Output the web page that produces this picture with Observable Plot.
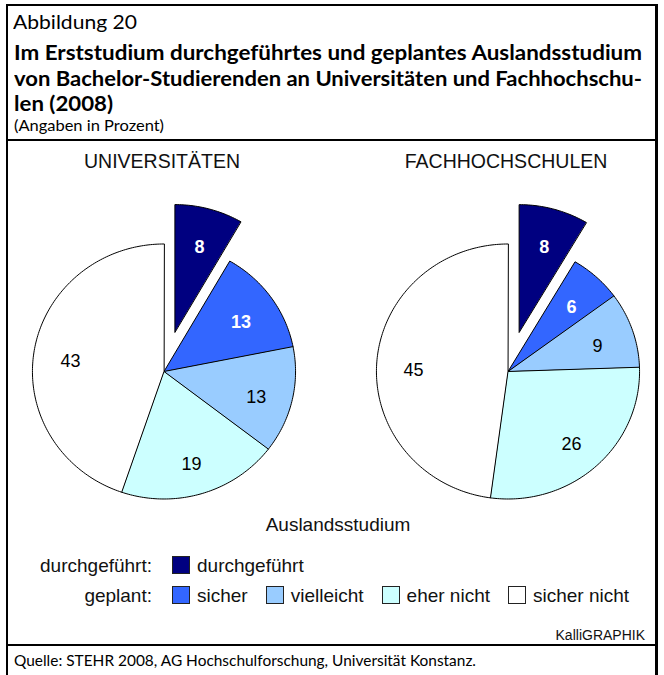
<!DOCTYPE html>
<html>
<head>
<meta charset="utf-8">
<script src="https://cdn.jsdelivr.net/npm/d3@7"></script>
<script src="https://cdn.jsdelivr.net/npm/@observablehq/plot@0.6"></script>
<style>
  html, body { margin: 0; padding: 0; background: #fff; }
  #page { position: relative; width: 664px; height: 675px; overflow: hidden; background: #fff; color: #000; }
  .rule { position: absolute; background: #000; }
  .hd { position: absolute; white-space: nowrap; line-height: 1; font-family: Lato, "Open Sans", sans-serif; transform-origin: 0 0; }
  .ar { font-family: "Liberation Sans", Arial, sans-serif; }
  #chart { position: absolute; left: 0; top: 142px; }
  .lrow { position: absolute; left: 0; white-space: nowrap; line-height: 1.1; font-family: "Liberation Sans", Arial, sans-serif; font-size: 19px; color: #111; }
  .lrow .lab { display: inline-block; width: 152px; text-align: right; margin-right: 20px; }
  .lrow .item { display: inline-block; margin-right: 18px; }
  .lrow .sw { display: inline-block; width: 16px; height: 16px; border: 1px solid #222; margin-right: 7px; margin-bottom: -2px; vertical-align: baseline; }
</style>
</head>
<body>
<div id="page"></div>
<script>
// ---- data ----
const schools = ["UNIVERSITÄTEN", "FACHHOCHSCHULEN"];
const categories = ["durchgeführt", "sicher", "vielleicht", "eher nicht", "sicher nicht"];
const uniValues = [8, 13, 13, 19, 43];
const fhValues = [8, 6, 9, 26, 45];
const colors = ["#000080", "#3366ff", "#99ccff", "#ccffff", "#ffffff"];
const legendTitle = "Auslandsstudium";
const legendGroups = ["durchgeführt:", "geplant:"];
const legendGroupMembers = [["durchgeführt"], ["sicher", "vielleicht", "eher nicht", "sicher nicht"]];
const figureLabel = "Abbildung 20";
const titleLines = [
  "Im Erststudium durchgeführtes und geplantes Auslandsstudium",
  "von Bachelor-Studierenden an Universitäten und Fachhochschu-",
  "len (2008)"
];
const subtitle = "(Angaben in Prozent)";
const credit = "KalliGRAPHIK";
const source = "Quelle: STEHR 2008, AG Hochschulforschung, Universität Konstanz.";

const page = document.getElementById("page");

// ---- frame ----
function rule(l, t, w, h) {
  const d = document.createElement("div");
  d.className = "rule";
  Object.assign(d.style, {left: l + "px", top: t + "px", width: w + "px", height: h + "px"});
  page.appendChild(d);
}
rule(6, 4, 652, 2);     // top
rule(6, 4, 2, 671);     // left
rule(655, 4, 3, 671);   // right
rule(6, 139, 652, 2);   // under header
rule(6, 644, 652, 2);   // above source

// ---- text placement helper (baseline + optional width fit) ----
function placeText(text, opts) {
  const el = document.createElement("div");
  el.className = "hd" + (opts.arial ? " ar" : "");
  el.textContent = text;
  el.style.fontSize = opts.size + "px";
  if (opts.weight) el.style.fontWeight = opts.weight;
  if (opts.color) el.style.color = opts.color;
  el.style.left = "0px";
  el.style.top = "0px";
  const probe = document.createElement("span");
  probe.style.display = "inline-block";
  probe.style.width = "0px";
  probe.style.height = "0px";
  el.appendChild(probe);
  page.appendChild(el);
  const base = probe.offsetTop;
  const w = el.getBoundingClientRect().width;
  let scale = 1;
  if (opts.fit) scale = opts.fit / w;
  if (opts.scale) scale = opts.scale;
  el.style.transform = `scaleX(${scale})`;
  let left = opts.left;
  if (opts.right != null) left = opts.right - w * scale;
  if (opts.center != null) left = opts.center - w * scale / 2;
  el.style.left = left + "px";
  el.style.top = (opts.baseline - base) + "px";
  return scale;
}

placeText(figureLabel, {size: 20, left: 13, baseline: 29, fit: 124});
const s1 = placeText(titleLines[0], {size: 21, weight: 700, left: 14, baseline: 60, fit: 628});
const s2 = placeText(titleLines[1], {size: 21, weight: 700, left: 14, baseline: 85.5, fit: 628});
placeText(titleLines[2], {size: 21, weight: 700, left: 14, baseline: 111, scale: (s1 + s2) / 2});
placeText(subtitle, {size: 15, left: 14, baseline: 131, fit: 150});
placeText(credit, {size: 14, arial: true, right: 645, baseline: 640, color: "#111"});
placeText(source, {size: 15, left: 14, baseline: 666, fit: 462});

// ---- pie geometry from values ----
const valuesBySchool = [uniValues, fhValues];
const explode = 0.32, labelR = 0.72;
const pts = [], labels = [];
schools.forEach((school, si) => {
  const vals = valuesBySchool[si];
  const total = d3.sum(vals);
  let acc = 0;
  vals.forEach((v, ci) => {
    const category = categories[ci];
    const a0 = acc / total * 2 * Math.PI;
    acc += v;
    const a1 = acc / total * 2 * Math.PI;
    const mid = (a0 + a1) / 2;
    const off = ci === 0 ? explode : 0;
    const ox = off * Math.sin(mid), oy = off * Math.cos(mid);
    const key = school + "|" + category;
    pts.push({school, category, key, x: ox, y: oy});
    const n = Math.max(2, Math.ceil((a1 - a0) / (Math.PI / 180)));
    for (let k = 0; k <= n; k++) {
      const a = a0 + (a1 - a0) * k / n;
      pts.push({school, category, key, x: ox + Math.sin(a), y: oy + Math.cos(a)});
    }
    labels.push({school, category, value: v, x: ox + labelR * Math.sin(mid), y: oy + labelR * Math.cos(mid), dark: ci < 2});
  });
});

const chart = Plot.plot({
  width: 664,
  height: 365,
  marginLeft: 13,
  marginRight: 6,
  marginTop: 0,
  marginBottom: 0,
  fx: {domain: schools, paddingInner: 0.1304, paddingOuter: 0, axis: null},
  x: {domain: [-1.1364, 1.1364], axis: null},
  y: {domain: [-1.0667, 1.796], axis: null},
  color: {domain: categories, range: colors},
  style: {background: "transparent", overflow: "visible", fontFamily: "'Liberation Sans', Arial, sans-serif"},
  marks: [
    Plot.line(pts, {fx: "school", x: "x", y: "y", z: "key", fill: "category", stroke: "black", strokeWidth: 1, curve: "linear-closed", strokeLinejoin: "miter"}),
    Plot.text(labels.filter(d => d.dark), {fx: "school", x: "x", y: "y", dy: 4, text: "value", fill: "white", fontWeight: "bold", fontSize: 18}),
    Plot.text(labels.filter(d => !d.dark), {fx: "school", x: "x", y: "y", dy: 5, text: "value", fill: "black", fontSize: 18}),
    Plot.text(schools, {fx: d => d, text: d => d, frameAnchor: "top", lineAnchor: "middle", dy: 19, dx: -2, fontSize: 19.5, fill: "#111"})
  ]
});
chart.id = "chart";
page.appendChild(chart);

// ---- legend ----
placeText(legendTitle, {size: 19, arial: true, center: 338, baseline: 531, color: "#111"});
const rowBaselines = [572, 602];
legendGroups.forEach((g, gi) => {
  const row = document.createElement("div");
  row.className = "lrow";
  const lab = document.createElement("span");
  lab.className = "lab";
  lab.textContent = g;
  row.appendChild(lab);
  legendGroupMembers[gi].forEach(cat => {
    const item = document.createElement("span");
    item.className = "item";
    const sw = document.createElement("span");
    sw.className = "sw";
    sw.style.background = colors[categories.indexOf(cat)];
    item.appendChild(sw);
    item.appendChild(document.createTextNode(cat));
    row.appendChild(item);
  });
  const probe = document.createElement("span");
  probe.style.display = "inline-block";
  probe.style.width = "0px";
  probe.style.height = "0px";
  row.appendChild(probe);
  page.appendChild(row);
  row.style.top = (rowBaselines[gi] - probe.offsetTop) + "px";
});
</script>
</body>
</html>
